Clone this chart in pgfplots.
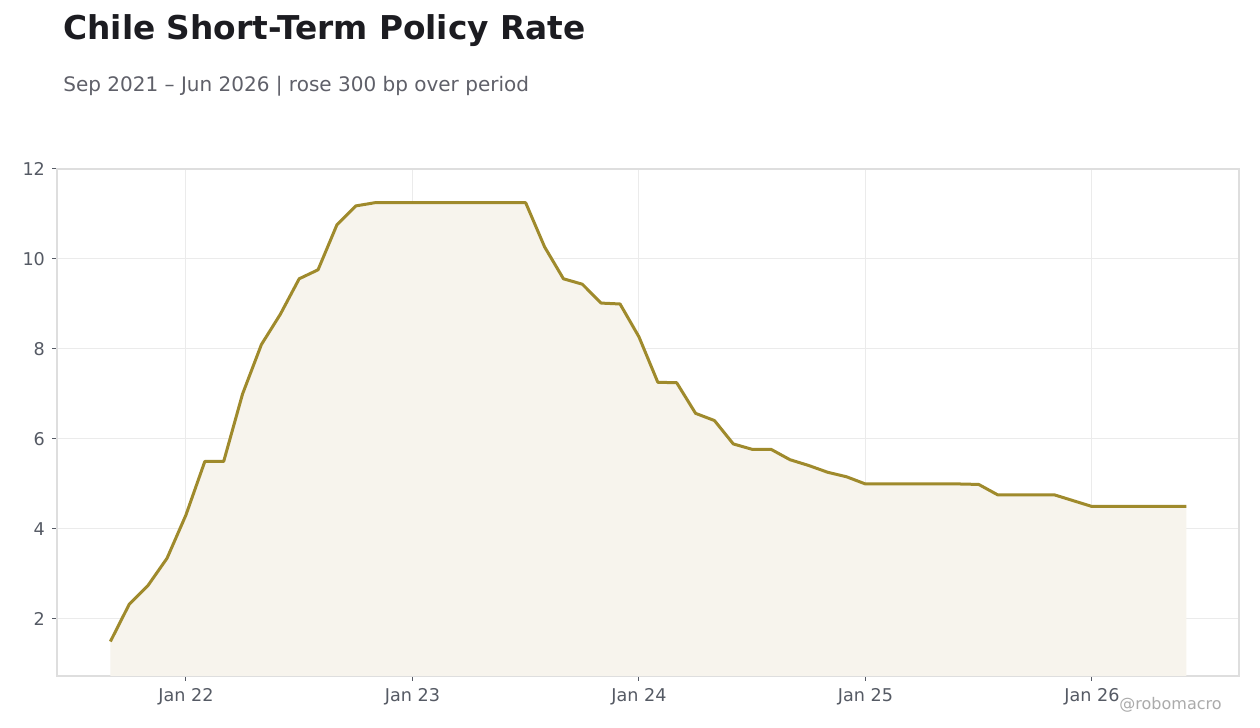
\documentclass[border=0pt]{standalone}
\usepackage{fontspec}
\setmainfont{DejaVu Sans}
\usepackage{pgfplots}
\usepackage{pgfplotstable}
\pgfplotsset{compat=1.18}

\definecolor{linecol}{HTML}{9F8A2C}
\definecolor{fillcol}{HTML}{F7F4ED}
\definecolor{titlecol}{HTML}{1C1C21}
\definecolor{subcol}{HTML}{5F6069}
\definecolor{tickcol}{HTML}{555A64}
\definecolor{gridcol}{HTML}{EBEBEB}
\definecolor{framecol}{HTML}{DEDEDE}
\definecolor{markcol}{HTML}{ABABAB}

% month index: Jan 2021 = 0
\pgfplotstableread{
m rate
8 1.5
9 2.33
10 2.75
11 3.35
12 4.31
13 5.5
14 5.5
15 7.0
16 8.1
17 8.77
18 9.56
19 9.76
20 10.76
21 11.18
22 11.25
23 11.25
24 11.25
25 11.25
26 11.25
27 11.25
28 11.25
29 11.25
30 11.25
31 10.27
32 9.56
33 9.44
34 9.02
35 9.0
36 8.27
37 7.26
38 7.25
39 6.57
40 6.41
41 5.89
42 5.77
43 5.77
44 5.54
45 5.41
46 5.26
47 5.16
48 5.0
49 5.0
50 5.0
51 5.0
52 5.0
53 5.0
54 4.99
55 4.76
56 4.76
57 4.76
58 4.76
59 4.63
60 4.5
61 4.5
62 4.5
63 4.5
64 4.5
65 4.5
}\ratetable

\begin{document}
\begin{tikzpicture}[x=1pt,y=1pt]
\fill[white] (0,0) rectangle (630,364);
\node[anchor=base west, inner sep=0, text=titlecol,
  font=\fontsize{16.4}{19}\selectfont\bfseries] at (31.5,344) {Chile Short-Term Policy Rate};
\node[anchor=base west, inner sep=0, text=subcol,
  font=\fontsize{10}{12}\selectfont] at (31.5,318) {Sep 2021 – Jun 2026 | rose 300 bp over period};
\begin{axis}[
  at={(28.5pt,26pt)}, anchor=south west,
  scale only axis, width=591pt, height=253.5pt,
  xmin=5.17, xmax=67.79, ymin=0.733, ymax=12,
  xtick={12,24,36,48,60},
  xticklabels={Jan 22,Jan 23,Jan 24,Jan 25,Jan 26},
  ytick={2,4,6,8,10,12},
  grid=major,
  major grid style={gridcol, line width=0.5pt},
  axis line style={framecol, line width=0.6pt},
  tick align=outside,
  major tick length=2.5pt,
  tick style={tickcol, line width=0.5pt},
  xtick pos=bottom, ytick pos=left,
  ticklabel style={font=\fontsize{8.8}{10}\selectfont, text=tickcol},
  /pgf/number format/assume math mode=true,
]
\addplot[draw=none, fill=fillcol] table[x=m, y=rate] {\ratetable} \closedcycle;
\addplot[linecol, line width=1.5pt, line join=round] table[x=m, y=rate] {\ratetable};
\end{axis}
\node[anchor=base east, inner sep=0, text=markcol,
  font=\fontsize{8}{10}\selectfont] at (611,9) {@robomacro};
\end{tikzpicture}
\end{document}
